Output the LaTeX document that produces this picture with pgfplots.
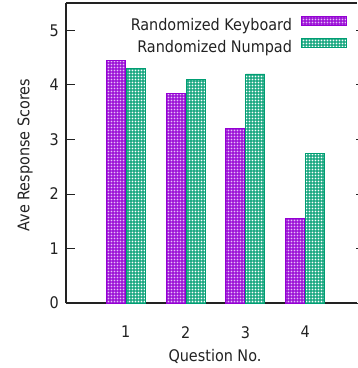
\documentclass[border=0pt]{standalone}
\usepackage{fontspec}
\setmainfont{DejaVu Sans Condensed}
\usepackage{pgfplots}
\pgfplotsset{compat=1.18}
\usetikzlibrary{patterns}
\pgfdeclarepatternformonly{kbdots}{\pgfpointorigin}{\pgfpoint{3pt}{3pt}}{\pgfpoint{3pt}{3pt}}{%
  \pgfpathrectangle{\pgfpoint{0.7pt}{0.7pt}}{\pgfpoint{1.6pt}{1.6pt}}\pgfusepath{fill}}
\pgfdeclarepatternformonly{npdots}{\pgfpointorigin}{\pgfpoint{3pt}{3pt}}{\pgfpoint{3pt}{3pt}}{%
  \pgfpathrectangle{\pgfpoint{0.5pt}{0.5pt}}{\pgfpoint{2pt}{2pt}}\pgfusepath{fill}}
\definecolor{kb}{HTML}{9400D3}
\definecolor{kblight}{HTML}{E6C0F8}
\definecolor{np}{HTML}{009E73}
\definecolor{axcol}{HTML}{222222}
\pgfplotsset{myframe/.style={
  at={(0,0)}, anchor=south west,
  scale only axis,
  width=291.5pt, height=300pt,
  xmin=0, xmax=4.875, ymin=0, ymax=5.5,
  ytick={0,1,2,3,4,5},
  tick align=inside,
  ytick style={line width=0.8pt, axcol},
  axis line style={line width=1.1pt, axcol},
}}
\begin{document}
\makebox[358pt][l]{%
\begin{tikzpicture}
\fontsize{16}{19}\selectfont
\begin{axis}[
  myframe,
  separate axis lines,
  axis x line*=box,
  axis y line*=left,
  xtick={1,2,3,4},
  major tick length=9pt,
  xtick style={draw=none},
  /pgf/number format/assume math mode=true,
  yticklabel style={inner sep=0pt, xshift=-7pt, text=axcol},
  xticklabel style={inner sep=0pt, yshift=-14pt, text=axcol},
  xlabel={Question No.},
  ylabel={Ave Response Scores},
  xlabel style={at={(axis description cs:0.511,-0.1533)}, anchor=north, inner sep=0pt, text=axcol},
  ylabel style={at={(axis description cs:-0.1132,0.4933)}, anchor=south, inner sep=0pt, rotate=0, text=axcol},
  ybar=1pt, bar width=19pt,
  legend plot pos=right,
  legend cell align=right,
  legend style={at={(1,1)}, anchor=north east, xshift=-10.5pt, yshift=-13pt,
    draw=none, fill=none, inner sep=0pt, column sep=9pt, row sep=3.5pt,
    nodes={inner sep=0pt, text height=12pt, text depth=4pt, text=axcol}},
  legend image code/.code={\draw[#1] (0pt,1pt) rectangle (45pt,10pt);},
]
\addplot[draw=kb, line width=0.8pt, fill=kb, postaction={pattern=kbdots, pattern color=kblight}]
  coordinates {(1,4.45) (2,3.85) (3,3.2) (4,1.55)};
\addlegendentry{Randomized Keyboard}
\addplot[draw=np, line width=0.8pt, fill=np, postaction={pattern=npdots, pattern color=white}]
  coordinates {(1,4.3) (2,4.1) (3,4.2) (4,2.75)};
\addlegendentry{Randomized Numpad}
\end{axis}
\begin{axis}[
  myframe,
  hide x axis,
  axis y line*=right,
  y axis line style={draw=none},
  major tick length=2pt,
  yticklabels={},
  yticklabel style={inner sep=0pt},
]
\end{axis}
\pgfresetboundingbox
\path[use as bounding box] (-66pt,-65pt) rectangle (292pt,303pt);
\end{tikzpicture}}
\end{document}
